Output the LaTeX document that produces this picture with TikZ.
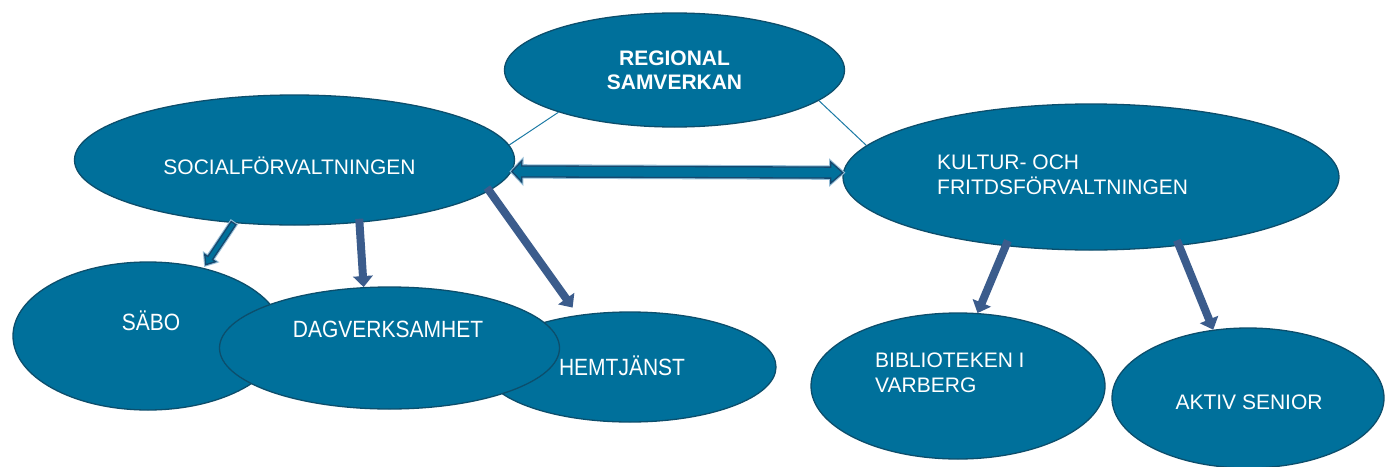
\documentclass[tikz,border=0pt]{standalone}
\usepackage{fontspec}
\setmainfont{Liberation Sans}
\usepackage{graphicx}
\usetikzlibrary{shapes.geometric,calc}
\definecolor{ellfill}{RGB}{0,112,155}
\definecolor{elldraw}{RGB}{12,78,108}
\definecolor{slate}{RGB}{59,92,140}
\definecolor{arrdark}{RGB}{22,72,110}
\definecolor{arrlight}{RGB}{150,190,215}
\definecolor{thinline}{RGB}{28,122,165}
% #1 style, #2 start, #3 tip, #4 half shaft, #5 half head, #6 head length, #7 start offset
\newcommand{\blockarrow}[7]{%
  \coordinate (baa) at ($(#2)!-#7!(#3)$);
  \coordinate (bah) at ($(#3)!#6!(#2)$);
  \path[#1] ($(baa)!#4!90:(#3)$) -- ($(bah)!#4!90:(#3)$) -- ($(bah)!#5!90:(#3)$) -- (#3)
    -- ($(bah)!#5!-90:(#3)$) -- ($(bah)!#4!-90:(#3)$) -- ($(baa)!#4!-90:(#3)$) -- cycle;
}
\begin{document}
\begin{tikzpicture}[x=1pt,y=-1pt,
  ell/.style={ellipse, fill=ellfill, draw=elldraw, line width=1.3pt, inner sep=0pt},
  lbl/.style={text=white, font=\fontsize{21}{24.5}\selectfont, inner sep=0pt},
  onel/.style={text height=15pt, text depth=0pt},
  tall/.style={text height=16.8pt, text depth=0pt},
  slatearrow/.style={fill=slate},
  outarrow/.style={fill=ellfill, draw=arrdark, line width=1.3pt, line join=miter,
    preaction={draw=arrlight, line width=3.4pt}},
  thin/.style={draw=thinline, line width=1pt}]
\fill[white] (0,0) rectangle (1386,466);
\useasboundingbox (0,0) rectangle (1386,466);

% ellipses
\node[ell, minimum width=340pt, minimum height=114pt] (reg) at (674.5,70) {};
\node[ell, minimum width=440pt, minimum height=130pt] (soc) at (294.5,160) {};
\node[ell, minimum width=496pt, minimum height=146pt] (kul) at (1091,177) {};
\node[ell, minimum width=292pt, minimum height=110pt] (hem) at (630,367) {};
\node[ell, minimum width=270pt, minimum height=148pt] (sabo) at (148,336) {};
\node[ell, minimum width=340pt, minimum height=122pt] (dag) at (389.5,348) {};
\node[ell, minimum width=294pt, minimum height=146pt] (bib) at (958,386) {};
\node[ell, minimum width=272pt, minimum height=140pt] (akt) at (1248,398) {};

% thin connectors
\draw[thin] (reg.-160.9) -- (soc.4.3);
\draw[thin] (reg.-12.6) -- (kul.172.2);

% double arrow
\coordinate (dl) at (soc.-3.5);
\coordinate (dr) at (kul.179.0);
\coordinate (dlh) at ($(dl)!10pt!(dr)$);
\coordinate (drh) at ($(dr)!12pt!(dl)$);
\path[outarrow] (dl) -- ($(dlh)!10.5pt!90:(dr)$) -- ($(dlh)!5.5pt!90:(dr)$)
  -- ($(drh)!5.5pt!-90:(dl)$) -- ($(drh)!10.5pt!-90:(dl)$) -- (dr)
  -- ($(drh)!10.5pt!90:(dl)$) -- ($(drh)!5.5pt!90:(dl)$)
  -- ($(dlh)!5.5pt!-90:(dr)$) -- ($(dlh)!10.5pt!-90:(dr)$) -- cycle;

% block arrows
\coordinate (tsabo) at ($(sabo.51.2)!-4pt!(sabo.center)$);
\blockarrow{outarrow}{soc.-134.8}{tsabo}{2.8pt}{6.5pt}{8pt}{0pt}
\blockarrow{slatearrow}{soc.-44.3}{dag.113.4}{4pt}{10pt}{11pt}{4pt}
\coordinate (themt) at ($(hem.134.5)!-10pt!(hem.center)$);
\blockarrow{slatearrow}{soc.-9.7}{themt}{4pt}{10pt}{11pt}{4pt}
\blockarrow{slatearrow}{kul.-141.5}{bib.75.3}{4pt}{10pt}{11pt}{6pt}
\blockarrow{slatearrow}{kul.-38.2}{akt.117.4}{4pt}{10pt}{11pt}{6pt}

% texts
\node[lbl, align=center, font=\bfseries\fontsize{21}{24.5}\selectfont] (regt) at (674.5,70.5) {REGIONAL\\SAMVERKAN};
\node[lbl, onel] (soct) at (289.5,167) {SOCIALFÖRVALTNINGEN};
\node[lbl, align=left, anchor=west] (kult) at (937,175) {KULTUR- OCH\\FRITDSFÖRVALTNINGEN};
\node[lbl, tall] (sabot) at (151,322) {\scalebox{1}[1.12]{SÄBO}};
\node[lbl, tall] (dagt) at (388,329) {\scalebox{1}[1.12]{DAGVERKSAMHET}};
\node[lbl, tall] (hemt) at (622,367) {\scalebox{1}[1.12]{HEMTJÄNST}};
\node[lbl, align=left, anchor=west] (bibt) at (875,373) {BIBLIOTEKEN I\\VARBERG};
\node[lbl, onel] (aktt) at (1249,402) {AKTIV SENIOR};
\end{tikzpicture}
\end{document}
